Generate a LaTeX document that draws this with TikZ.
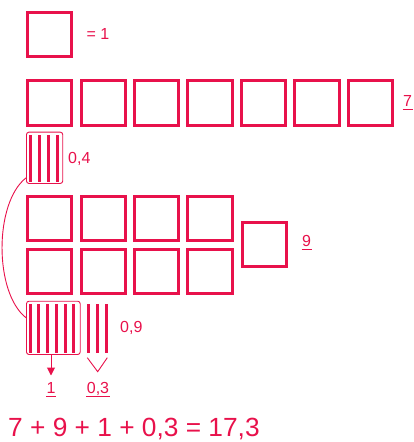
\documentclass[tikz,border=0pt]{standalone}
\usepackage{fontspec}
\setmainfont{Liberation Sans}
\usetikzlibrary{positioning,arrows.meta}
\definecolor{rasp}{RGB}{232,17,75}
\tikzset{
    unitsq/.style={draw=rasp, line width=3pt, minimum size=44.3pt, inner sep=0pt},
    stripbox/.style={draw=rasp, line width=0.9pt, rounded corners=2.5pt, inner sep=0pt},
    tenth/.style={rasp, line width=3pt},
    lbl/.style={text=rasp, font=\fontsize{16}{19}\selectfont, inner sep=0pt},
}
\newcommand{\tenthbars}[4]{
    \foreach \k in {1,...,#2}
        \draw[tenth] ({#1+8.75*(\k-1)},#3) -- ({#1+8.75*(\k-1)},#4);
}
\newcommand{\ulnum}[1]{\setbox0\hbox{#1}\rlap{\kern-0.5pt\rule[-3.6pt]{\dimexpr\wd0+1pt\relax}{1.2pt}}\box0}
\begin{document}
\begin{tikzpicture}[x=1pt,y=-1pt]
        \useasboundingbox (0,0) rectangle (413,442);
        \node[unitsq] (one) at (49.7,34.2) {};
        \node[lbl, right=13pt of one] (eqone) {= 1};
        \foreach \i in {1,...,7}
            \node[unitsq] (r\i) at ({49.7+53.45*(\i-1)},103) {};
        \node[lbl, anchor=west] (lseven) at (403,103) {\ulnum{7}};
        \node[stripbox, minimum width=36.3pt, minimum height=51.3pt] (s04) at (44.6,157.8) {};
        \tenthbars{30.8}{4}{135}{182}
        \node[lbl, anchor=west] (t04) at (68,159) {0,4};
        \foreach \r in {1,2}
            \foreach \c in {1,...,4}
                \node[unitsq] (g\r\c) at ({49.7+53.45*(\c-1)},{218.3+53.4*(\r-1)}) {};
        \node[unitsq] (extra) at (264.5,244.7) {};
        \node[lbl, anchor=west] (lnine) at (302,243) {\ulnum{9}};
        \node[stripbox, minimum width=53.7pt, minimum height=53.3pt] (s09) at (53.35,327.85) {};
        \tenthbars{30}{6}{304}{352.7}
        \tenthbars{88.7}{3}{304}{352.7}
        \node[lbl, anchor=west] (t09) at (120,328) {0,9};
        \draw[rasp, line width=0.9pt] ([yshift=6pt]s04.south west)
            .. controls +(-32,25) and +(-32,-25) .. ([yshift=-17pt]s09.north west);
        \node[lbl] (lone) at (51,390) {\ulnum{1}};
        \node[lbl] (lthree) at (98,390) {\ulnum{0,3}};
        \draw[rasp, line width=1pt, -{Triangle[length=8pt,width=8pt]}, shorten >=7pt]
            (s09.south -| lone) -- (lone.north);
        \draw[rasp, line width=0.9pt] (87.3,357.7) -- (97.7,371.7) -- (107.3,357.7);
        \node[text=rasp, font=\fontsize{26.3}{31}\selectfont, anchor=west, inner sep=0pt] (sum)
            at (8,429) {7 + 9 + 1 + 0,3 = 17,3};
    \end{tikzpicture}
\end{document}
